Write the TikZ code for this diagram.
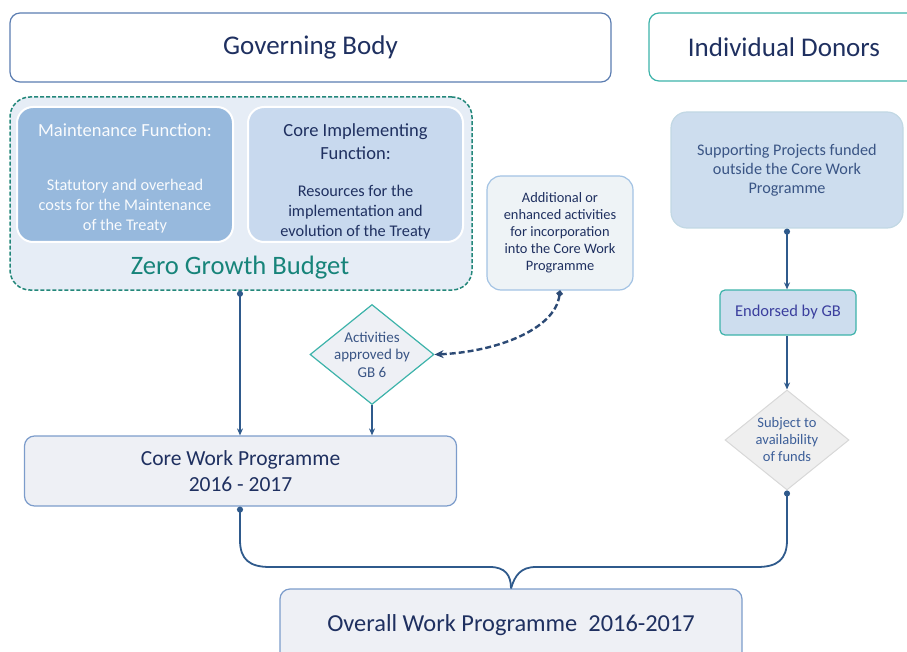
\documentclass[tikz,border=0pt]{standalone}
\usepackage{fontspec}
\setmainfont{Carlito}
\usetikzlibrary{shapes.geometric,arrows.meta}
\definecolor{navy}{HTML}{1F3060}
\definecolor{boxblue}{HTML}{5B7DB1}
\definecolor{teal1}{HTML}{3DB3AA}
\definecolor{zgbdash}{HTML}{23877A}
\definecolor{zgbfill}{HTML}{E6EDF6}
\definecolor{zgbtext}{HTML}{17847A}
\definecolor{maintfill}{HTML}{97B9DD}
\definecolor{corefill}{HTML}{C8D9EE}
\definecolor{addfill}{HTML}{EEF3F6}
\definecolor{addline}{HTML}{A3C3E4}
\definecolor{cwpfill}{HTML}{EEF0F5}
\definecolor{cwpline}{HTML}{7C9CCB}
\definecolor{supfill}{HTML}{CDDDEE}
\definecolor{supline}{HTML}{C2D8E4}
\definecolor{endtext}{HTML}{3B3F9E}
\definecolor{dia2fill}{HTML}{EFEFEF}
\definecolor{dia2line}{HTML}{D8D8D8}
\definecolor{dia2text}{HTML}{3D5F99}
\definecolor{conn}{HTML}{2F5A8C}
\definecolor{dconn}{HTML}{2C4A75}
\definecolor{suptext}{HTML}{3A5585}
\newcommand{\fsz}[2]{\fontsize{#1}{#2}\selectfont}
\begin{document}
\begin{tikzpicture}[x=1pt,y=-1pt,
  rbox/.style={draw, rounded corners=10pt, inner sep=0pt, line width=1.2pt},
  txt/.style={align=center, inner sep=0pt},
  conarrow/.style={draw=conn, line width=1.8pt, {Circle[length=6pt]}-{Stealth[length=7pt,width=6pt]}},
  brace/.style={draw=conn, line width=1.8pt}]
\useasboundingbox (0,0) rectangle (907,652);
\clip (0,0) rectangle (907,652);
% top boxes
\node[rbox, draw=boxblue, fill=white, minimum width=601pt, minimum height=69pt,
  text=navy, font=\fsz{27}{30}] (gb) at (310.5,47.5) {Governing Body};
\node[rbox, draw=teal1, fill=white, minimum width=270pt, minimum height=68pt,
  text=navy, font=\fsz{27}{30}] (donors) at (784,47) {Individual Donors};
% zero growth budget
\node[draw=zgbdash, dash pattern=on 4pt off 2pt, fill=zgbfill, line width=1.5pt, rounded corners=20pt,
  minimum width=462pt, minimum height=193pt, inner sep=0pt] (zgb) at (241,193.5) {};
\node[draw=white, fill=maintfill, line width=2pt, rounded corners=16pt,
  minimum width=216pt, minimum height=135pt, inner sep=0pt] (maint) at (125,174.5) {};
\node[draw=white, fill=corefill, line width=2pt, rounded corners=16pt,
  minimum width=215pt, minimum height=135pt, inner sep=0pt] (core) at (355.5,174.5) {};
\node[txt, text=white!94!maintfill, font=\fsz{18.5}{23}] (mainttitle) at (125,130) {Maintenance Function:};
\node[txt, text=white!94!maintfill, font=\fsz{16.3}{20}] (maintbody) at (125,206) {Statutory and overhead\\costs for the Maintenance\\of the Treaty};
\node[txt, text=navy, font=\fsz{18.5}{23}] (coretitle) at (355.5,141.5) {Core Implementing\\Function:};
\node[txt, text=navy, font=\fsz{16.3}{20}] (corebody) at (355.5,212) {Resources for the\\implementation and\\evolution of the Treaty};
\node[txt, text=zgbtext, font=\fsz{26.6}{30}] (zgbtitle) at (240,268) {Zero Growth Budget};
% additional activities
\node[rbox, draw=addline, fill=addfill, line width=1.2pt, rounded corners=14pt,
  minimum width=146pt, minimum height=114pt, text=navy, txt, font=\fsz{14.4}{17}] (add) at (560,233)
  {Additional or\\enhanced activities\\for incorporation\\into the Core Work\\Programme};
% diamond 1
\node[diamond, draw=teal1, fill=cwpfill, line width=1.2pt, minimum width=124pt,
  minimum height=100pt, inner sep=0pt] (dia1) at (372,354.5) {};
\node[txt, text=suptext, font=\fsz{15}{17.5}] (dia1txt) at (372,354.5) {Activities\\approved by\\GB 6};
% core work programme
\node[rbox, draw=cwpline, fill=cwpfill, minimum width=432pt, minimum height=70pt,
  text=navy, txt, font=\fsz{21.5}{26}] (cwp) at (240.5,471) {Core Work Programme\\2016 - 2017};
% right column
\node[rbox, draw=supline, fill=supfill, rounded corners=16pt, minimum width=232pt, minimum height=116pt,
  text=suptext, txt, font=\fsz{16.2}{19}] (sup) at (787,170) {Supporting Projects funded\\outside the Core Work\\Programme};
\node[rbox, draw=teal1, fill=supfill, rounded corners=5pt, minimum width=136pt, minimum height=45pt,
  text=endtext, font=\fsz{16.5}{18}] (endorsed) at (788,312.5) {Endorsed by GB};
\node[diamond, draw=dia2line, fill=dia2fill, line width=1pt, minimum width=124pt,
  minimum height=100pt, inner sep=0pt] (dia2) at (787,440) {};
\node[txt, text=dia2text, font=\fsz{14.5}{17}] (dia2txt) at (787,440) {Subject to\\availability\\of funds};
% overall
\node[rbox, draw=cwpline, fill=cwpfill, minimum width=462pt, minimum height=80pt] (overall) at (511,629) {};
\node[txt, text=navy, font=\fsz{24.4}{28}] (overalltxt) at (511,625) {Overall Work Programme~~2016-2017};
% connectors
\draw[conarrow] (zgb.south -| 240,0) -- (cwp.north -| 240,0);
\draw[draw=conn, line width=1.8pt, -{Stealth[length=7pt,width=6pt]}] (dia1.south) -- (cwp.north -| dia1.south);
\draw[conarrow] (sup.south) -- (endorsed.north -| sup.south);
\draw[draw=conn, line width=1.8pt, -{Stealth[length=7pt,width=6pt]}] (endorsed.south -| sup.south) -- (dia2.north);
\draw[draw=dconn, line width=2.4pt, dash pattern=on 6pt off 3pt, {Circle[length=6pt]}-{Stealth[length=9pt,width=8pt]}]
  (add.south) .. controls (555,330) and (495,352) .. (dia1.east);
% brace
\coordinate (mid) at (overall.north);
\draw[brace, {Circle[length=6pt]}-] (cwp.south -| 240,0) -- (240,540) .. controls (240,560) and (250,567) .. (270,567)
  -- (490,567) .. controls (505,567) and (511,575) .. (mid);
\draw[brace, {Circle[length=6pt]}-] (dia2.south) -- (787,540) .. controls (787,560) and (777,567) .. (757,567)
  -- (536,567) .. controls (521,567) and (515,575) .. (mid);
\end{tikzpicture}
\end{document}
